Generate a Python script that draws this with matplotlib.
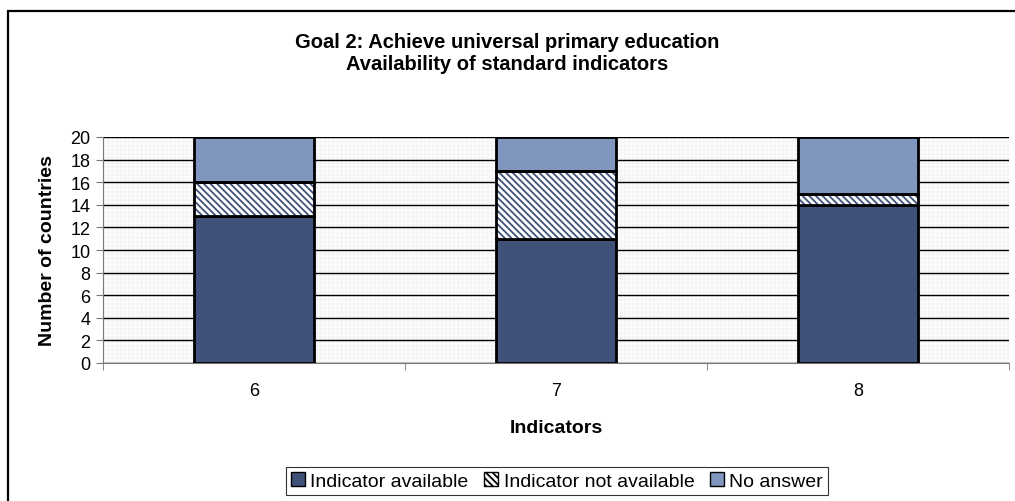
import matplotlib
matplotlib.use("Agg")
import matplotlib.pyplot as plt
import numpy as np
from matplotlib.patches import Rectangle

plt.rcParams['font.family'] = ['Liberation Sans', 'DejaVu Sans']
plt.rcParams['hatch.linewidth'] = 1.3

categories = ["6", "7", "8"]
available = [13, 11, 14]
not_available = [3, 6, 1]
no_answer = [4, 3, 5]
series_names = ["Indicator available", "Indicator not available", "No answer"]
y_ticks = list(range(0, 21, 2))

dark = "#40527A"
light = "#8096BE"

fig = plt.figure(figsize=(10.15, 5.02), dpi=100)
W, H = 1015, 502

# outer chart frame
fig.patches.append(Rectangle((8 / W, -0.1), 1.2, (H - 12) / H + 0.1,
                             transform=fig.transFigure, fill=False,
                             edgecolor="black", linewidth=1.6))

ax = fig.add_axes([103 / W, 1 - 364 / H, (1009 - 103) / W, (364 - 138) / H])
ax.set_facecolor("#f2f2f2")
ax.add_patch(Rectangle((0, 0), 1, 1, transform=ax.transAxes, facecolor="none",
                       hatch="++++", edgecolor="#fbfbfb", linewidth=0, zorder=0))

x = np.arange(len(categories))
width = 0.40
bottom2 = np.array(available)
bottom3 = bottom2 + np.array(not_available)

ax.bar(x, available, width, color=dark, edgecolor="black", linewidth=2, zorder=3,
       label=series_names[0])
ax.bar(x, not_available, width, bottom=bottom2, color="white", edgecolor=dark,
       hatch="\\\\\\\\\\", linewidth=0, zorder=3, label=series_names[1])
ax.bar(x, not_available, width, bottom=bottom2, color="none", edgecolor="black",
       linewidth=2, zorder=4)
ax.bar(x, no_answer, width, bottom=bottom3, color=light, edgecolor="black",
       linewidth=2, zorder=3, label=series_names[2])

ax.set_xlim(-0.5, len(categories) - 0.5)
ax.set_ylim(0, 20)
ax.set_yticks(y_ticks)
ax.yaxis.grid(True, color="black", linewidth=1.0)
ax.set_axisbelow(True)

ax.set_xticks(x)
ax.set_xticklabels(categories, fontsize=13)
ax.set_xticks(np.arange(-0.5, len(categories), 1.0), minor=True)
ax.tick_params(axis="x", which="major", length=0, pad=14)
ax.tick_params(axis="x", which="minor", length=5, color="#777777")
ax.tick_params(axis="y", length=5, color="#777777", labelsize=13, pad=4)

for s in ["top", "right"]:
    ax.spines[s].set_visible(False)
ax.spines["left"].set_color("#777777")
ax.spines["bottom"].set_color("#777777")

ax.set_ylabel("Number of countries", fontsize=14, fontweight="bold", labelpad=10)
ax.set_xlabel("Indicators", fontsize=14, fontweight="bold", labelpad=14)

fig.text(0.5, 1 - 42 / H, "Goal 2: Achieve universal primary education",
         ha="center", va="center", fontsize=14.5, fontweight="bold")
fig.text(0.5, 1 - 64 / H, "Availability of standard indicators",
         ha="center", va="center", fontsize=14.5, fontweight="bold")

leg = fig.legend(loc="center", bbox_to_anchor=(557 / W, 1 - 482 / H), ncol=3,
                 fontsize=14, frameon=True, fancybox=False, edgecolor="black",
                 handlelength=0.7, handleheight=0.7, handletextpad=0.3,
                 columnspacing=0.8, borderpad=0.25)
leg.get_frame().set_linewidth(0.8)
for h in leg.legend_handles:
    h.set_edgecolor("black")
    h.set_linewidth(1)

fig.savefig("out.png", dpi=100)
